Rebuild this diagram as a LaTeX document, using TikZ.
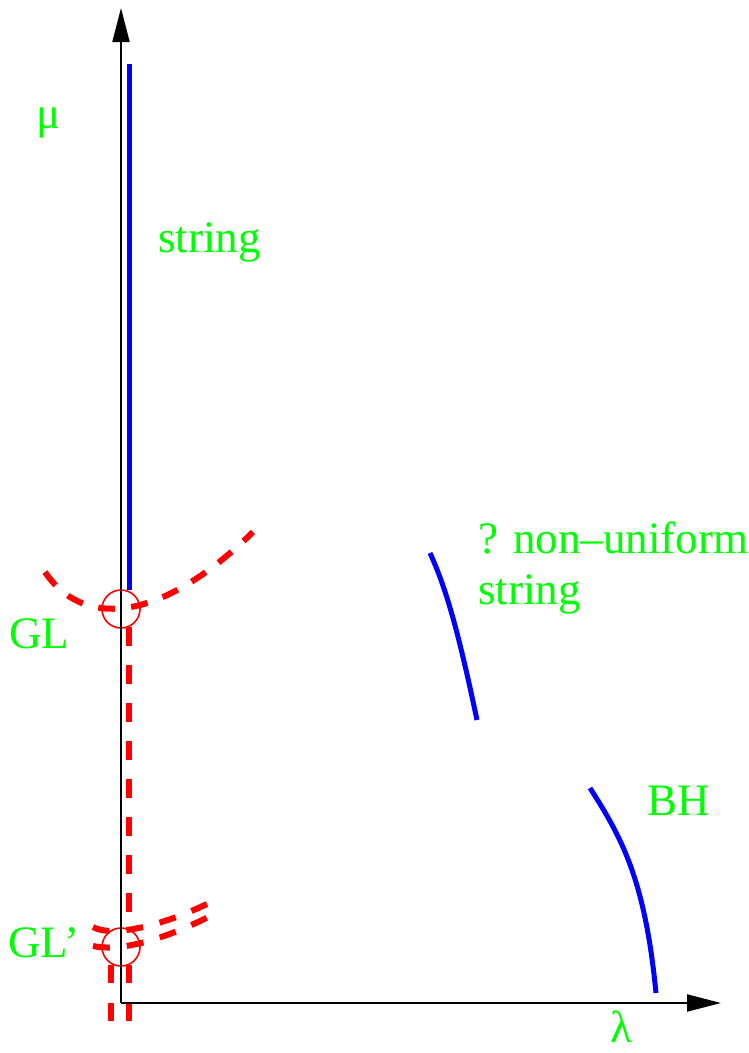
\documentclass[tikz,border=0pt]{standalone}
\usepackage{fontspec}
\setmainfont{Liberation Serif}
\usepackage{xcolor}
\usetikzlibrary{arrows.meta, positioning}

\tikzset{
  axis/.style={line width=2pt, -{Triangle[length=34pt,width=17pt]}},
  lbl/.style={text=green, font=\fontsize{45}{51}\selectfont, inner sep=0pt, anchor=base west},
  branch/.style={blue, line width=5pt},
  unstable/.style={red, line width=6pt, dash pattern=on 17pt off 17pt},
  crit/.style={circle, draw=red, line width=1.6pt, minimum size=38pt, inner sep=0pt}
}

\begin{document}
\begin{tikzpicture}[x=1pt, y=-1pt]
    \useasboundingbox (0,0) rectangle (749,1053);

    \coordinate (O) at (121,1003);
    \coordinate (Ytop) at (121,8);
    \coordinate (Xend) at (721,1003);

    \node[crit] (GL) at (121,609) {};
    \node[crit] (GLp) at (121,947) {};

    % unstable branches
    \coordinate (a1) at (45,572);
    \coordinate (a2) at (253,532);
    \coordinate (b1) at (129,627);
    \coordinate (b2) at (129,912);
    \draw[unstable, dash pattern=on 17pt off 16pt] (a1) .. controls (80,625) and (155,628) .. (a2);
    \draw[unstable, dash pattern=on 19pt off 19pt] (b1) -- (b2);
    % doubled branch at GL'
    \coordinate (c1) at (93,927);
    \coordinate (c2) at (215,900);
    \coordinate (e1) at (93,946);
    \coordinate (e2) at (218,912);
    \draw[unstable] (c1) .. controls (110,937) and (160,928) .. (c2);
    \draw[unstable] (e1) .. controls (120,952) and (165,940) .. (e2);
    \coordinate (d1) at (111,965);
    \coordinate (d2) at (111,1022);
    \coordinate (f1) at (129,965);
    \coordinate (f2) at (129,1022);
    \draw[unstable, dash pattern=on 18pt off 20pt] (d1) -- (d2);
    \draw[unstable, dash pattern=on 18pt off 20pt] (f1) -- (f2);

    % axes
    \draw[axis] (O) -- (Ytop);
    \draw[axis] (O) -- (Xend);

    % stable branches
    \coordinate (s1) at (129,64);
    \coordinate (s2) at (129,590);
    \coordinate (n1) at (430,553);
    \coordinate (n2) at (477,720);
    \coordinate (h1) at (590,788);
    \coordinate (h2) at (656,993);
    \draw[branch] (s1) -- (s2);
    \draw[branch] (n1) .. controls (446,588) and (458,630) .. (n2);
    \draw[branch] (h1) .. controls (622,838) and (645,880) .. (h2);

    \node[lbl] (mu) at (36,128) {μ};
    \node[lbl] (lam) at (610,1042) {λ};
    \node[lbl] (str) at (158,252) {string};
    \node[lbl] (nonuni) at (478,553) {? non--uniform};
    \node[lbl] (nonuni2) at (478,604) {string};
    \node[lbl] (gllbl) at (9,648) {GL};
    \node[lbl] (glplbl) at (8,957) {GL'};
    \node[lbl] (bh) at (647,815) {BH};

\end{tikzpicture}
\end{document}
